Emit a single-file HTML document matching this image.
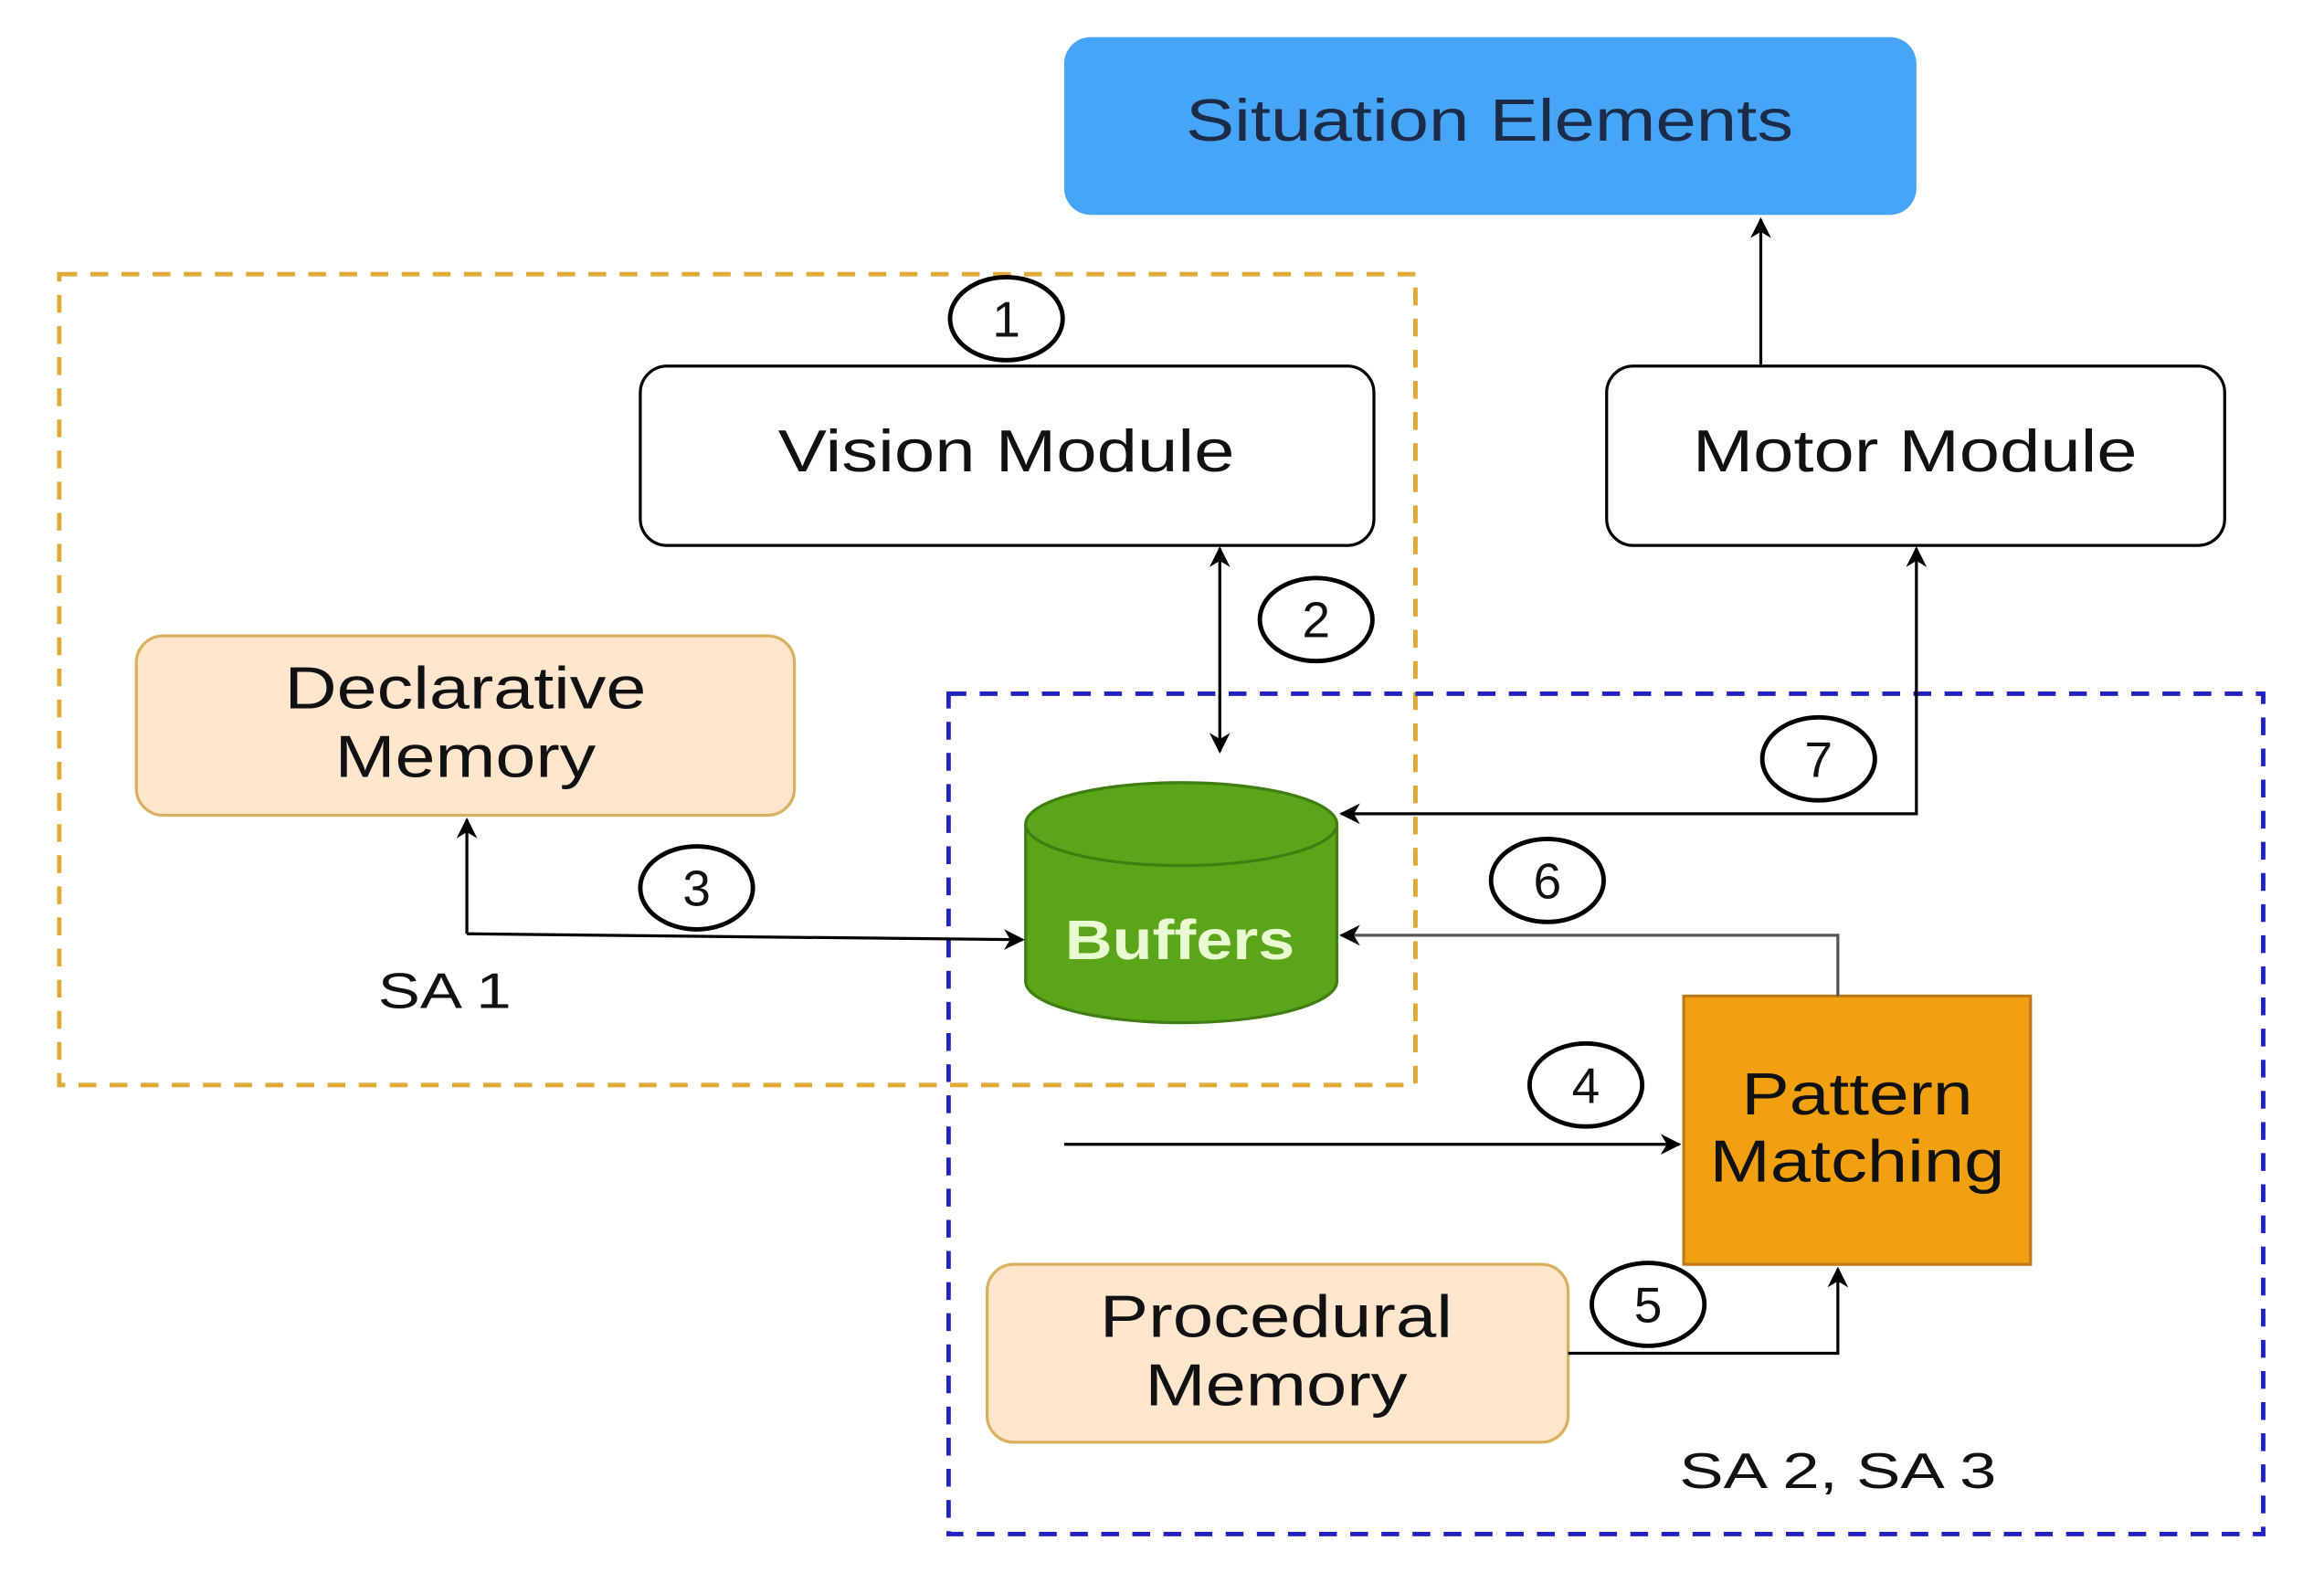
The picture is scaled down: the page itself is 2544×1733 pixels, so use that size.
<!DOCTYPE html>
<html><head><style>html,body{margin:0;padding:0;background:#fff}svg{display:block}</style></head>
<body>
<svg width="2544" height="1733" viewBox="0 0 1568 1068" preserveAspectRatio="none" xmlns="http://www.w3.org/2000/svg" font-family="Liberation Sans, sans-serif">
<defs>
<marker id="a" viewBox="0 0 10 10" refX="9" refY="5" markerWidth="14" markerHeight="14" markerUnits="userSpaceOnUse" orient="auto-start-reverse"><path d="M0,0 L10,5 L0,10 L3,5 z" fill="#000"/></marker>
</defs>
<rect x="718" y="25" width="575" height="120" rx="18" fill="#47a5f7"/>
<text x="1005" y="95" font-size="40" text-anchor="middle" fill="#1b2b48" textLength="410" lengthAdjust="spacingAndGlyphs">Situation Elements</text>
<rect x="40" y="185" width="915" height="547" fill="none" stroke="#e0aa38" stroke-width="3" stroke-dasharray="12,9"/>
<rect x="640" y="468" width="887" height="567" fill="none" stroke="#2222c0" stroke-width="3" stroke-dasharray="12,9"/>
<rect x="432" y="247" width="495" height="121" rx="18" fill="#fff" stroke="#000" stroke-width="2"/>
<text x="679" y="318" font-size="40" text-anchor="middle" fill="#111" textLength="308" lengthAdjust="spacingAndGlyphs">Vision Module</text>
<rect x="1084" y="247" width="417" height="121" rx="18" fill="#fff" stroke="#000" stroke-width="2"/>
<text x="1292" y="318" font-size="40" text-anchor="middle" fill="#111" textLength="300" lengthAdjust="spacingAndGlyphs">Motor Module</text>
<rect x="92" y="429" width="444" height="121" rx="18" fill="#fde6cc" stroke="#d9b060" stroke-width="2"/>
<text x="314" y="478" font-size="40" text-anchor="middle" fill="#111" textLength="244" lengthAdjust="spacingAndGlyphs">Declarative</text>
<text x="314" y="524" font-size="40" text-anchor="middle" fill="#111" textLength="176" lengthAdjust="spacingAndGlyphs">Memory</text>
<rect x="666" y="853" width="392" height="120" rx="18" fill="#fde6cc" stroke="#d9b060" stroke-width="2"/>
<text x="861" y="902" font-size="40" text-anchor="middle" fill="#111" textLength="238" lengthAdjust="spacingAndGlyphs">Procedural</text>
<text x="861" y="948" font-size="40" text-anchor="middle" fill="#111" textLength="177" lengthAdjust="spacingAndGlyphs">Memory</text>
<rect x="1136" y="672" width="234" height="181" fill="#f0a010" stroke="#c07a18" stroke-width="2"/>
<text x="1253" y="752" font-size="40" text-anchor="middle" fill="#111" textLength="156" lengthAdjust="spacingAndGlyphs">Pattern</text>
<text x="1253" y="797" font-size="40" text-anchor="middle" fill="#111" textLength="199" lengthAdjust="spacingAndGlyphs">Matching</text>
<path d="M692,556 L692,662 A105,28 0 0 0 902,662 L902,556" fill="#5ba51a" stroke="#3f7e10" stroke-width="2"/>
<ellipse cx="797" cy="556" rx="105" ry="28" fill="#5ba51a" stroke="#3f7e10" stroke-width="2"/>
<text x="796" y="647" font-size="38" font-weight="bold" text-anchor="middle" fill="#e8fad0" textLength="155" lengthAdjust="spacingAndGlyphs">Buffers</text>
<g stroke="#000" stroke-width="2" fill="none">
<line x1="823" y1="370" x2="823" y2="507" marker-start="url(#a)" marker-end="url(#a)"/>
<line x1="1188" y1="247" x2="1188" y2="148" marker-end="url(#a)"/>
<path d="M1293,370 L1293,549 L905,549" marker-start="url(#a)" marker-end="url(#a)"/>
<line x1="315" y1="630" x2="315" y2="553" marker-end="url(#a)"/>
<line x1="315" y1="630" x2="690" y2="634" marker-end="url(#a)"/>
<path d="M1240,672 L1240,631 L905,631" marker-end="url(#a)" stroke="#555"/>
<line x1="718" y1="772" x2="1133" y2="772" marker-end="url(#a)"/>
<path d="M1058,913 L1240,913 L1240,856" marker-end="url(#a)"/>
</g>
<g fill="#fff" stroke="#000" stroke-width="3">
<ellipse cx="679" cy="215" rx="38" ry="28"/>
<ellipse cx="888" cy="418" rx="38" ry="28"/>
<ellipse cx="470" cy="599" rx="38" ry="28"/>
<ellipse cx="1070" cy="732" rx="38" ry="28"/>
<ellipse cx="1112" cy="880" rx="38" ry="28"/>
<ellipse cx="1044" cy="594" rx="38" ry="28"/>
<ellipse cx="1227" cy="512" rx="38" ry="28"/>
</g>
<g font-size="34" text-anchor="middle" fill="#111">
<text x="679" y="227">1</text>
<text x="888" y="430">2</text>
<text x="470" y="611">3</text>
<text x="1070" y="744">4</text>
<text x="1112" y="892">5</text>
<text x="1044" y="606">6</text>
<text x="1227" y="524">7</text>
</g>
<text x="300" y="680" font-size="34" text-anchor="middle" fill="#111" textLength="90" lengthAdjust="spacingAndGlyphs">SA 1</text>
<text x="1240" y="1004" font-size="34" text-anchor="middle" fill="#111" textLength="214" lengthAdjust="spacingAndGlyphs">SA 2, SA 3</text>
</svg>
</body></html>
